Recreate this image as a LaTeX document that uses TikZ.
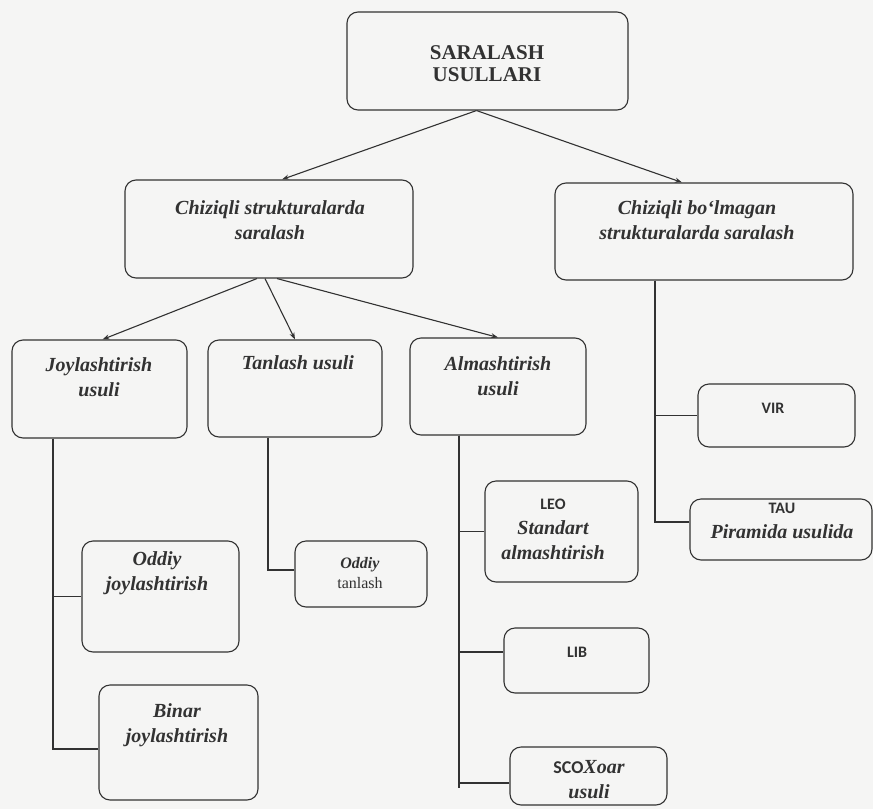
\documentclass[tikz,border=0pt]{standalone}
\usepackage{fontspec}
\setmainfont{Liberation Serif}
\newfontfamily\sansb{Carlito}
\newcommand\abbrfont{\fontsize{16}{21}\selectfont\sansb\bfseries\upshape}
\usetikzlibrary{arrows.meta}
\definecolor{ink}{RGB}{50,50,50}
\definecolor{paper}{RGB}{245,245,244}

\begin{document}
\begin{tikzpicture}[
		x=1pt, y=-1pt,
		box/.style={draw=ink, line width=1.1pt, rounded corners=11pt, inner sep=0pt},
		txt/.style={font=\fontsize{20}{25}\selectfont\bfseries\itshape, align=center, text=ink, inner sep=0pt},
		link/.style={draw=ink, line width=1.1pt},
		arr/.style={link, -{Stealth[length=7pt, width=5pt]}}
	]
	\fill[paper] (0, 0) rectangle (873, 809);
	\useasboundingbox (0, 0) rectangle (873, 809);

	% 顶层和第二层的框
	\node[box, minimum width=281pt, minimum height=98pt] (saralash) at (487.5, 61) {};
	\node[txt, font=\fontsize{21}{22}\selectfont\bfseries] (t-saralash) at (487, 64) {SARALASH\\USULLARI};
	\node[box, minimum width=288pt, minimum height=98pt] (chiziqli) at (269, 229) {};
	\node[txt] (t-chiziqli) at (270, 220) {Chiziqli strukturalarda\\saralash};
	\node[box, minimum width=298pt, minimum height=97pt] (nochiziqli) at (704, 231.5) {};
	\node[txt] (t-nochiziqli) at (697, 220) {Chiziqli bo‘lmagan\\strukturalarda saralash};

	% 第三层：三种方法
	\node[box, minimum width=175pt, minimum height=98pt] (joyl) at (99.5, 389) {};
	\node[txt] (t-joyl) at (99, 377) {Joylashtirish\\usuli};
	\node[box, minimum width=174pt, minimum height=97pt] (tanlash) at (295, 388.5) {};
	\node[txt] (t-tanlash) at (298, 363) {Tanlash usuli};
	\node[box, minimum width=176pt, minimum height=97pt] (almash) at (498, 386.5) {};
	\node[txt] (t-almash) at (498, 376) {Almashtirish\\usuli};

	% 叶子框
	\node[box, minimum width=157pt, minimum height=111pt] (oddjoy) at (160.5, 596.5) {};
	\node[txt] (t-oddjoy) at (157, 573) {Oddiy\\joylashtirish};
	\node[box, minimum width=159pt, minimum height=115pt] (binar) at (178.5, 742.5) {};
	\node[txt] (t-binar) at (177, 725) {Binar\\joylashtirish};
	\node[box, minimum width=132pt, minimum height=66pt] (oddtan) at (361, 574) {};
	\node[txt, font=\fontsize{16}{20}\selectfont] (t-oddtan) at (360, 573) {\textbf{\textit{Oddiy}}\\tanlash};
	\node[box, minimum width=153pt, minimum height=101pt] (leo) at (561.5, 531.5) {};
	\node[txt] (t-leo) at (553, 529) {{\abbrfont LEO}\\Standart\\almashtirish};
	\node[box, minimum width=145pt, minimum height=65pt] (lib) at (576.5, 660.5) {};
	\node[txt] (t-lib) at (577, 652) {\abbrfont LIB};
	\node[box, minimum width=157pt, minimum height=58pt] (sco) at (588.5, 776) {};
	\node[txt] (t-sco) at (589, 780) {{\abbrfont\fontsize{18}{21}\selectfont SCO}Xoar\\usuli};
	\node[box, minimum width=157pt, minimum height=63pt] (vir) at (776.5, 415.5) {};
	\node[txt] (t-vir) at (773, 408) {\abbrfont VIR};
	\node[box, minimum width=182pt, minimum height=61pt] (tau) at (781, 529.5) {};
	\node[txt] (t-tau) at (782, 521) {{\abbrfont TAU}\\Piramida usulida};

	% 箭头
	\draw[arr] ([xshift=-11pt]saralash.south) -- ([xshift=13pt]chiziqli.north);
	\draw[arr] ([xshift=-11pt]saralash.south) -- ([xshift=-22pt]nochiziqli.north);
	\draw[arr] ([xshift=-12pt]chiziqli.south) -- ([xshift=3pt]joyl.north);
	\draw[arr] ([xshift=-4pt]chiziqli.south) -- (tanlash.north);
	\draw[arr] ([xshift=8pt]chiziqli.south) -- (almash.north);

	% 树形连线
	\draw[link] ([xshift=-46.5pt]joyl.south) |- (oddjoy.west);
	\draw[link] ([xshift=-46.5pt]joyl.south) |- ([yshift=-6.5pt]binar.west);
	\draw[link] ([xshift=-27pt]tanlash.south) |- ([yshift=4pt]oddtan.west);
	\draw[link] ([xshift=-39pt]almash.south) |- (leo.west);
	\draw[link] ([xshift=-39pt]almash.south) |- ([yshift=8.5pt]lib.west);
	\draw[link] ([xshift=-39pt]almash.south) |- ([yshift=-7pt]sco.west);
	\draw[link] ([xshift=-39pt]almash.south) -- ([xshift=-39pt]almash.south |- 0, 788);
	\draw[link] ([xshift=-49pt]nochiziqli.south) |- (vir.west);
	\draw[link] ([xshift=-49pt]nochiziqli.south) |- ([yshift=7.5pt]tau.west);
\end{tikzpicture}
\end{document}
